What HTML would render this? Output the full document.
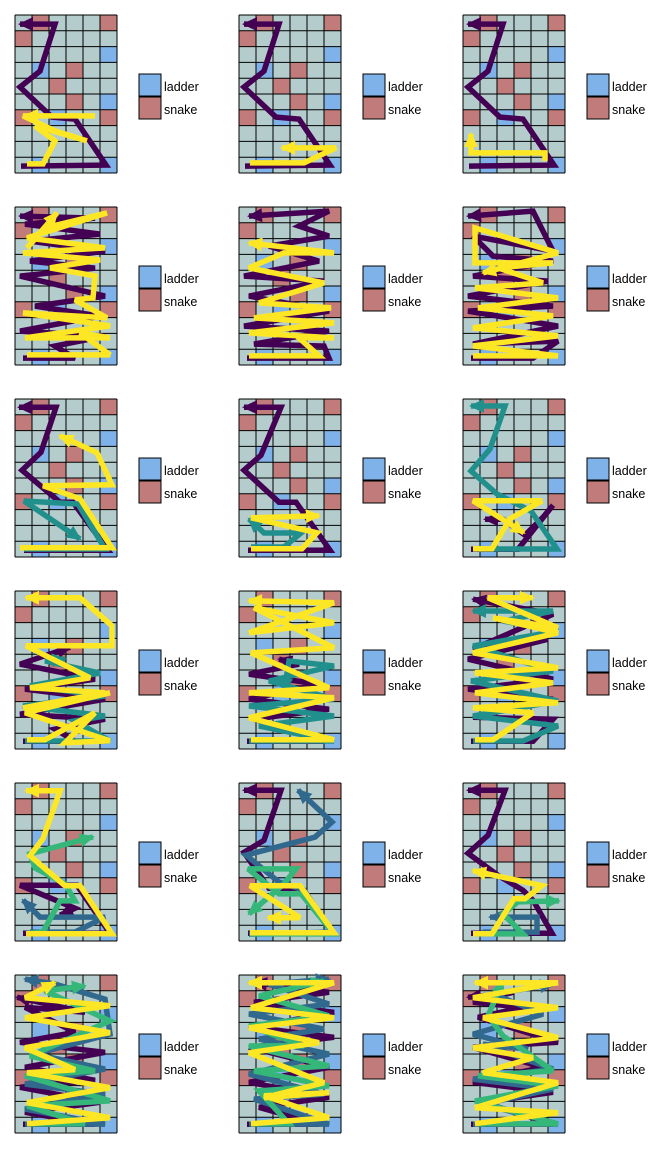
<!DOCTYPE html>
<html><head><meta charset="utf-8"><style>
html,body{margin:0;padding:0;background:#fff;width:672px;height:1152px;overflow:hidden}
svg{display:block}
text{font-family:"Liberation Sans",sans-serif;font-size:12.5px;fill:#000}
</style></head><body>
<svg id="chart" width="672" height="1152" viewBox="0 0 672 1152" xmlns="http://www.w3.org/2000/svg"></svg>
<script>
// board cells [col,row]
const ladderCells = [[5,2],[1,3],[5,5],[2,6],[1,9],[5,9]];
const snakeCells = [[1,0],[5,0],[0,1],[3,3],[2,4],[3,5],[0,6],[5,6]];
const legendLabels = ["ladder","snake"];
const seriesColors2 = ["#440154","#FDE725"];
const seriesColors3 = ["#440154","#21908C","#FDE725"];
const seriesColors4 = ["#440154","#31688E","#35B779","#FDE725"];
// player paths per panel, board-local units (x 0..102, y 0..158)
const basePurple = [[6,152],[91,151],[60,105],[37,103],[5,73],[25,57],[40,10],[5,10]];
const p00 = [basePurple, [[12,148],[28,148],[40,125],[20,110],[72,125],[40,115],[8,100],[80,100],[10,100]]];
const p01 = [basePurple, [[11,147],[65,147],[97,132],[43,132]]];
const p02 = [[[6,152],[91,151],[60,105],[37,103],[5,73],[25,57],[40,10],[5,10]], [[82,145],[82,137],[8,137],[8,118]]];
const p10 = [[[8,152],[60,152],[40,140],[90,130],[5,125],[85,110],[20,100],[90,90],[5,70],[80,62],[15,55],[90,45],[15,35],[85,28],[10,18],[80,12],[5,10]],
  [[12,147],[95,147],[65,125],[95,130],[10,130],[95,118],[8,105],[92,110],[60,92],[78,90],[80,68],[35,60],[85,52],[8,45],[90,40],[12,30],[92,5],[30,20],[12,40],[42,5]]];
const p11 = [[[8,152],[90,152],[85,140],[15,138],[90,125],[5,120],[90,105],[10,90],[85,75],[5,70],[80,55],[30,40],[90,30],[60,20],[90,5],[10,10]],
  [[10,148],[80,148],[60,130],[95,130],[10,125],[95,115],[15,110],[92,100],[20,95],[85,75],[10,60],[45,45],[95,45],[10,35]]];
const p12 = [[[8,152],[70,152],[95,135],[10,138],[95,120],[5,105],[90,100],[5,90],[85,75],[10,70],[90,55],[30,50],[10,30],[90,45],[70,5],[5,10]],
  [[10,148],[95,148],[10,138],[95,128],[10,120],[90,108],[15,100],[95,90],[12,80],[80,75],[35,60],[90,55],[12,55],[12,20],[95,45],[20,65]]];
const p20 = [[[9,153],[93,153],[58,105],[45,105],[7,73],[26,55],[41,10],[4,10]],
  [[9,150],[90,150],[63,105],[9,102],[65,140]],
  [[5,147],[97,147],[65,98],[28,85],[97,84],[82,52],[45,35]]];
const p21 = [[[9,153],[91,153],[57,105],[40,105],[5,73],[22,58],[42,10],[5,10]],
  [[12,148],[45,148],[62,134],[25,134],[10,120]],
  [[12,148],[63,148],[78,132],[12,117],[80,115]]];
const p22 = [[[8,152],[55,152],[90,108],[80,120],[62,138],[40,122],[22,122]],
  [[10,150],[94,150],[68,112],[34,95],[8,72],[27,50],[42,7],[8,7]],
  [[10,148],[29,148],[47,118],[79,100],[10,100],[61,132]]];
const p30 = [[[8,152],[60,152],[40,140],[90,130],[5,125],[90,110],[10,100],[80,90],[5,75],[55,58]],
  [[10,150],[95,150],[60,130],[90,125],[8,115],[90,105],[15,95],[85,82],[30,70],[50,68]],
  [[12,147],[30,147],[80,120],[50,150],[95,148],[10,120],[95,100],[8,115],[90,100],[15,95],[75,85],[11,53],[97,53],[97,33],[65,5],[11,5]]];
const p31 = [[[8,152],[85,152],[50,140],[15,130],[90,120],[10,110],[80,95],[10,85],[60,75],[40,70]],
  [[10,150],[95,150],[20,135],[95,125],[10,115],[95,108],[30,90],[95,75],[50,70],[45,100]],
  [[12,147],[95,147],[10,125],[95,105],[10,100],[90,95],[12,60],[95,55],[15,15],[95,30],[10,40],[95,10],[10,8]]];
const p32 = [[[8,152],[70,152],[90,130],[10,128],[90,110],[5,100],[90,90],[5,70],[85,50],[10,60],[90,25],[10,10]],
  [[10,150],[60,150],[95,135],[10,125],[95,110],[8,90],[90,80],[10,55],[95,40],[40,30],[90,20],[10,20]],
  [[12,147],[30,147],[70,120],[10,115],[95,110],[12,100],[90,90],[12,80],[95,75],[10,60],[95,40],[30,25],[95,35],[25,5],[70,5]]];
const p40 = [[[8,153],[95,153],[62,105],[5,105],[60,128],[45,135]],
  [[15,150],[60,150],[90,135],[25,135],[8,118]],
  [[11,150],[28,148],[45,117],[60,117],[50,100],[20,84],[15,70],[78,53]],
  [[11,148],[97,148],[65,100],[50,100],[15,70],[28,53],[45,5],[11,5]]];
const p41 = [[[9,153],[95,153],[60,108],[30,108],[5,72],[25,60],[42,10],[5,10]],
  [[10,152],[93,150],[65,108],[40,100],[7,73],[76,55],[93,40],[59,8]],
  [[11,150],[95,150],[62,110],[40,110],[9,85],[57,85],[45,100],[10,130]],
  [[11,147],[95,147],[61,100],[11,100],[61,132],[29,132]]];
const p42 = [[[8,153],[89,153],[70,120],[60,110],[35,95],[5,73],[25,55],[42,10],[5,10]],
  [[20,150],[74,150],[74,135],[27,135]],
  [[12,150],[60,150],[40,130],[55,118],[96,117]],
  [[10,148],[29,148],[51,113],[62,113],[79,100],[10,85]]];
const p50 = [[[8,152],[80,152],[10,140],[85,130],[5,115],[80,108],[10,95],[90,80],[5,70],[60,60],[10,35],[70,40],[2,25]],
  [[10,150],[90,150],[10,135],[90,120],[10,110],[90,95],[20,80],[95,60],[90,25],[40,10],[10,5]],
  [[12,148],[70,148],[12,130],[95,125],[10,100],[80,95],[15,80],[95,45],[30,15],[70,10]],
  [[12,146],[95,140],[12,125],[95,110],[12,95],[60,92],[10,70],[95,55],[10,40],[95,28],[10,20],[40,5]]];
const p51 = [[[8,152],[80,152],[20,135],[90,125],[10,110],[90,95],[10,75],[95,65],[15,55],[95,40],[15,30],[90,20],[15,10]],
  [[10,150],[90,150],[15,125],[85,120],[10,100],[90,80],[20,65],[85,55],[10,40],[90,30],[30,10],[90,5]],
  [[12,148],[50,148],[20,115],[90,110],[15,95],[90,90],[10,70],[65,70],[10,50],[90,40],[20,20],[85,5]],
  [[12,146],[90,140],[25,118],[90,115],[25,120],[85,105],[10,75],[80,65],[10,50],[95,40],[12,30],[95,5],[10,5]]];
const p52 = [[[8,152],[90,152],[20,130],[90,120],[10,110],[80,95],[10,75],[95,70],[15,45],[60,35],[10,30],[50,20],[5,25]],
  [[10,150],[95,150],[20,130],[90,115],[10,105],[90,95],[20,70],[65,75],[10,60],[80,40],[30,20],[90,10]],
  [[12,148],[95,148],[12,125],[95,110],[15,100],[90,95],[40,60],[25,40],[40,5]],
  [[12,146],[95,135],[12,130],[95,105],[20,95],[70,80],[10,70],[95,60],[20,40],[95,30],[10,20],[95,5],[12,5]]];
const panels = [p00,p01,p02,p10,p11,p12,p20,p21,p22,p30,p31,p32,p40,p41,p42,p50,p51,p52];
const rowColors = [seriesColors2,seriesColors2,seriesColors3,seriesColors3,seriesColors4,seriesColors4];

const NS = "http://www.w3.org/2000/svg";
const svg = document.getElementById("chart");
const BX = 15, BY = 15, BW = 102, BH = 158, NC = 6, NR = 10;
const cw = BW / NC, ch = BH / NR;
const sx = v => BX + v, sy = v => BY + v;
function mk(tag, attrs, parent) {
  const e = document.createElementNS(NS, tag);
  for (const k in attrs) e.setAttribute(k, attrs[k]);
  parent.appendChild(e); return e;
}
panels.forEach((paths, i) => {
  const r = Math.floor(i / 3), c = i % 3;
  const g = mk("g", {transform: `translate(${c*224},${r*192})`}, svg);
  
  
  const board = mk("g", {}, g);
  
  
  const bg = mk("rect", {x: BX, y: BY, width: BW, height: BH, fill: "#b4cccc"}, board);
  
  
  ladderCells.forEach(([cc, rr]) => {
    const e = mk("rect", {x: BX + cc*cw, y: BY + rr*ch, width: cw, height: ch, fill: "#7eb2e8"}, board);
    
    
  });
  snakeCells.forEach(([cc, rr]) => {
    const e = mk("rect", {x: BX + cc*cw, y: BY + rr*ch, width: cw, height: ch, fill: "#c27b7b"}, board);
    
    
  });
  let d = "";
  for (let k = 0; k <= NC; k++) d += `M${BX + k*cw},${BY}V${BY + BH}`;
  for (let k = 0; k <= NR; k++) d += `M${BX},${BY + k*ch}H${BX + BW}`;
  const grid = mk("path", {d, stroke: "#000", "stroke-width": 1, fill: "none"}, board);
  
  
  const cols = rowColors[r];
  paths.forEach((pts, s) => {
    const off = (s - (paths.length - 1) / 2) * 1.8;
    const P = pts.map(([x, y]) => [sx(x), sy(y) + off]);
    const line = mk("polyline", {points: P.map(p => p.join(",")).join(" "), fill: "none", stroke: cols[s], "stroke-width": 5.5, "stroke-linejoin": "miter", "stroke-miterlimit": 3}, g);
    
    
    const [x1, y1] = P[P.length - 2], [x2, y2] = P[P.length - 1];
    const L = Math.hypot(x2 - x1, y2 - y1) || 1, ux = (x2 - x1) / L, uy = (y2 - y1) / L;
    const hl = 13, hw = 7;
    const bx = x2 - ux*hl, by = y2 - uy*hl;
    const head = mk("polygon", {points: `${x2+ux*2},${y2+uy*2} ${bx - uy*hw},${by + ux*hw} ${bx + uy*hw},${by - ux*hw}`, fill: cols[s]}, g);
    
    
  });
  const leg = mk("g", {}, g);
  
  
  const lcols = ["#7eb2e8", "#c27b7b"];
  legendLabels.forEach((lab, k) => {
    const sw = mk("rect", {x: 139, y: 74 + k*23, width: 22, height: 22, fill: lcols[k], stroke: "#000", "stroke-width": 1}, leg);
    
    
    const t = mk("text", {x: 164, y: 91 + k*23}, leg);
    t.textContent = lab;
    
    
  });
});
</script>
</body></html>
